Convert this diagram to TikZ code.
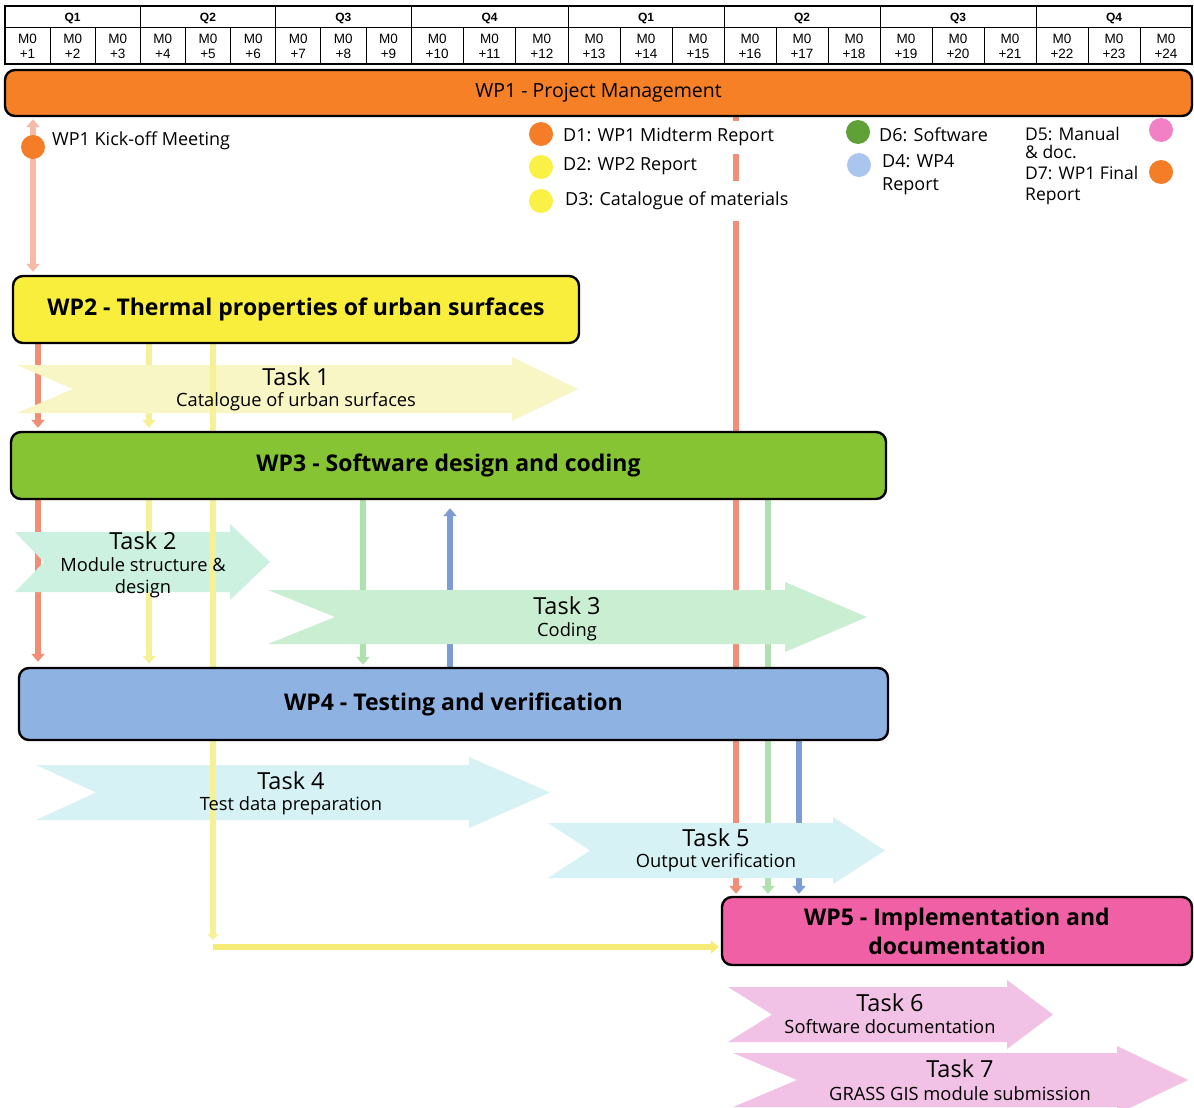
\documentclass[tikz,border=0pt]{standalone}
\usepackage{fontspec}
\setmainfont{Open Sans}
\newfontfamily\hdrfont{Liberation Sans}
\usetikzlibrary{arrows.meta}
\definecolor{wpOrange}{RGB}{245,128,38}
\definecolor{wpYellow}{RGB}{250,238,60}
\definecolor{wpGreen}{RGB}{134,196,52}
\definecolor{wpBlue}{RGB}{142,178,226}
\definecolor{wpPink}{RGB}{240,96,164}
\definecolor{tYellow}{RGB}{248,246,196}
\definecolor{tGreenA}{RGB}{204,241,224}
\definecolor{tGreen}{RGB}{202,238,210}
\definecolor{tCyan}{RGB}{214,242,244}
\definecolor{tPink}{RGB}{242,194,230}
\definecolor{lSalmon}{RGB}{242,142,118}
\definecolor{lSalmonPale}{RGB}{246,186,166}
\definecolor{lYellow}{RGB}{246,241,150}
\definecolor{lYellowB}{RGB}{245,236,120}
\definecolor{lGreen}{RGB}{176,224,176}
\definecolor{lBlue}{RGB}{126,156,212}
\definecolor{dOrange}{RGB}{245,125,40}
\definecolor{dYellow}{RGB}{250,240,70}
\definecolor{dGreen}{RGB}{95,160,55}
\definecolor{dBlue}{RGB}{170,198,238}
\definecolor{dPink}{RGB}{242,128,196}
\pgfdeclarelayer{Lbg}
\pgfdeclarelayer{Ltask}
\pgfdeclarelayer{Lover}
\pgfsetlayers{Lbg,Ltask,Lover,main}
\newcommand\taskarrow[8]{\fill[#1] (#2,#4) -- (#7,#4) -- (#7,{#4-#8}) -- (#3,{(#4+#5)/2}) -- (#7,{#5+#8}) -- (#7,#5) -- (#2,#5) -- ({#2+#6},{(#4+#5)/2}) -- cycle;}
\begin{document}
\begin{tikzpicture}[x=1pt,y=-1pt,
  wp/.style={draw=black, line width=2.4pt, rounded corners=10pt, inner sep=0pt, align=center, font=\fontsize{23}{29}\selectfont\bfseries},
  ttl/.style={inner sep=0pt, font=\fontsize{23.5}{26}\selectfont},
  subtxt/.style={inner sep=0pt, align=center, font=\fontsize{18.3}{22}\selectfont},
  ddot/.style={circle, minimum size=24pt, inner sep=0pt},
  legtxt/.style={anchor=west, inner sep=0pt, align=left, font=\fontsize{18}{21}\selectfont},
  conn/.style={line width=6.5pt},
  arr/.style={-{Triangle[width=13pt,length=8pt]}},
  mon/.style={inner sep=0pt, align=center, font=\hdrfont\fontsize{13.5}{15.5}\selectfont},
  qtr/.style={inner sep=0pt, font=\hdrfont\bfseries\fontsize{12}{12}\selectfont},
]
\useasboundingbox (0,0) rectangle (1194,1108);
\begin{pgfonlayer}{Lbg}
\fill[white] (0,0) rectangle (1194,1108);
\end{pgfonlayer}

% ---------- header table ----------
\draw[line width=1.2pt] (5,6) rectangle (1192,64);
\draw[line width=1pt] (5,28) -- (1192,28);
\foreach \a/\b/\q [count=\i] in {5/140.3/Q1,140.3/275.7/Q2,275.7/411/Q3,411/568/Q4,568/724/Q1,724/880/Q2,880/1036/Q3,1036/1192/Q4}{
  \draw[line width=1pt] (\a,6) -- (\a,64);
  \node[qtr] (q\i) at ({(\a+\b)/2},18) {\q};
}
\foreach \a/\b [count=\i] in {5/50.1,50.1/95.2,95.2/140.3,140.3/185.4,185.4/230.6,230.6/275.7,275.7/320.8,320.8/365.9,365.9/411,411/463.3,463.3/515.7,515.7/568,568/620,620/672,672/724,724/776,776/828,828/880,880/932,932/984,984/1036,1036/1088,1088/1140,1140/1192}{
  \draw[line width=0.8pt] (\a,28) -- (\a,64);
  \node[mon] (m\i) at ({(\a+\b)/2},46.5) {M0\\+\i};
}

% ---------- column coordinates ----------
\coordinate (xa) at (33,0);
\coordinate (xb) at (38,0);
\coordinate (xc) at (149,0);
\coordinate (xd) at (213,0);
\coordinate (xe) at (363,0);
\coordinate (xf) at (450,0);
\coordinate (xg) at (736,0);
\coordinate (xh) at (768,0);
\coordinate (xi) at (799,0);
\coordinate (ybend) at (0,940);
\coordinate (yh) at (0,947);

% ---------- work package boxes ----------
\node[wp, fill=wpOrange, minimum width=1187pt, minimum height=46pt, font=\fontsize{19.5}{22}\selectfont] (wp1) at (598.5,93) {WP1 - Project Management};
\node[wp, fill=wpYellow, minimum width=566pt, minimum height=67pt] (wp2) at (296,309.5) {WP2 - Thermal properties of urban surfaces};
\node[wp, fill=wpGreen, minimum width=875pt, minimum height=67pt] (wp3) at (448.5,465.5) {WP3 - Software design and coding};
\node[wp, fill=wpBlue, minimum width=869pt, minimum height=72pt] (wp4) at (453.5,704) {WP4 - Testing and verification};
\node[wp, fill=wpPink, minimum width=470pt, minimum height=68pt] (wp5) at (957,931) {WP5 - Implementation and\\documentation};

% ---------- lines hidden behind task arrows ----------
\begin{pgfonlayer}{Lbg}
\draw[conn, lSalmon, arr, shorten >=2pt] (wp1.south -| xg) -- (wp5.north -| xg);
\draw[conn, lGreen, arr, shorten >=2pt] (wp3.south -| xh) -- (wp5.north -| xh);
\draw[conn, lBlue, arr, shorten >=2pt] (wp4.south -| xi) -- (wp5.north -| xi);
\draw[conn, lGreen, arr, shorten >=2pt] (wp3.south -| xe) -- (wp4.north -| xe);
\draw[conn, lBlue, arr, shorten >=8pt] (wp4.north -| xf) -- (wp3.south -| xf);
\draw[conn, lSalmon, arr, shorten >=3pt] (wp2.south -| xb) -- (wp3.north -| xb);
\draw[conn, lSalmon, arr, shorten >=5pt] (wp3.south -| xb) -- (wp4.north -| xb);
\draw[conn, lYellow, arr, shorten >=3pt] (wp2.south -| xc) -- (wp3.north -| xc);
\draw[conn, lYellow, arr, shorten >=3pt] (wp3.south -| xc) -- (wp4.north -| xc);
\end{pgfonlayer}

% ---------- task arrows ----------
\begin{pgfonlayer}{Ltask}
\taskarrow{tYellow}{17}{578}{365}{413}{56}{512}{8}
\taskarrow{tGreenA}{15}{270}{532}{592}{29}{230}{8}
\taskarrow{tGreen}{268}{867}{590}{644}{67}{785}{8}
\taskarrow{tCyan}{36}{550}{765}{820}{60}{469}{8}
\taskarrow{tCyan}{548}{885}{823}{878}{42}{833}{6}
\taskarrow{tPink}{728}{1053}{987}{1042}{44}{1007}{7}
\taskarrow{tPink}{733}{1188}{1053}{1107}{64}{1117}{7}
\end{pgfonlayer}

\node[ttl] (t1) at (296,377) {Task 1};
\node[subtxt] (t1s) at (296,402) {Catalogue of urban surfaces};
\node[ttl] (t2) at (143,541) {Task 2};
\node[subtxt] (t2s) at (143,578) {Module structure \&\\design};
\node[ttl] (t3) at (567,606) {Task 3};
\node[subtxt] (t3s) at (567,632) {Coding};
\node[ttl] (t4) at (291,781) {Task 4};
\node[subtxt] (t4s) at (291,806) {Test data preparation};
\node[ttl] (t5) at (716,838) {Task 5};
\node[subtxt] (t5s) at (716,863) {Output verification};
\node[ttl] (t6) at (890,1003) {Task 6};
\node[subtxt] (t6s) at (890,1027) {Software documentation};
\node[ttl] (t7) at (960,1069) {Task 7};
\node[subtxt] (t7s) at (960,1094) {GRASS GIS module submission};

% ---------- lines visible over task arrows ----------
\begin{pgfonlayer}{Lover}
\draw[conn, lSalmonPale, {Triangle[width=13pt,length=8pt]}-{Triangle[width=13pt,length=8pt]}, shorten <=2pt, shorten >=3pt] (wp1.south -| xa) -- (wp2.north -| xa);
\draw[conn, lYellow] (wp2.south -| xd) -- (wp3.north -| xd);
\draw[conn, lYellow] (wp3.south -| xd) -- (wp4.north -| xd);
\draw[conn, lYellow, -{Triangle[width=11pt,length=6pt]}] (wp4.south -| xd) -- (xd |- ybend);
\draw[conn, lYellowB, arr, shorten >=2pt] (xd |- yh) -- (wp5.west |- yh);
\end{pgfonlayer}

% ---------- milestones / deliverables ----------
\node[ddot, fill=dOrange] (k0) at (33,147) {};
\node[legtxt] (k0t) at (52,141) {WP1 Kick-off Meeting};
\node[legtxt, fill=white, minimum height=33pt] (d1t) at (563,137) {D1: WP1 Midterm Report};
\node[legtxt] (d2t) at (563,166) {D2: WP2 Report};
\node[legtxt, fill=white, minimum height=40pt] (d3t) at (565,201) {D3: Catalogue of materials};
\node[legtxt] (d6t) at (879,135) {D6: Software};
\node[legtxt, font=\fontsize{18}{23}\selectfont] (d4t) at (882,175) {D4: WP4\\Report};
\node[legtxt, font=\fontsize{17.5}{18.5}\selectfont] (d5t) at (1025,143) {D5: Manual\\\& doc.};
\node[legtxt, font=\fontsize{17.5}{21}\selectfont] (d7t) at (1025,185) {D7: WP1 Final\\Report};
\node[ddot, fill=dOrange] (d1) at (541,134) {};
\node[ddot, fill=dYellow] (d2) at (541,167) {};
\node[ddot, fill=dYellow] (d3) at (541,201) {};
\node[ddot, fill=dGreen] (d6) at (858,132) {};
\node[ddot, fill=dBlue] (d4) at (859,165) {};
\node[ddot, fill=dPink] (d5) at (1161,130) {};
\node[ddot, fill=dOrange] (d7) at (1161,172) {};
\end{tikzpicture}
\end{document}
